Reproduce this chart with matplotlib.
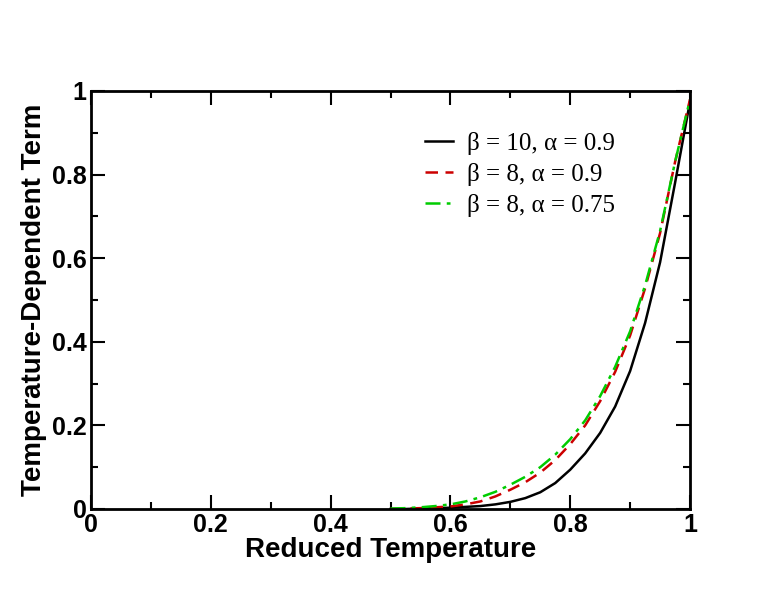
import matplotlib
matplotlib.use("Agg")
import matplotlib.pyplot as plt
from matplotlib.ticker import MultipleLocator

# values
reduced_t = [0.500, 0.525, 0.550, 0.575, 0.600, 0.625, 0.650, 0.675, 0.700,
             0.725, 0.750, 0.775, 0.800, 0.825, 0.850, 0.875, 0.900, 0.925,
             0.950, 0.975, 1.000]
beta10_a09 = [0.000, 0.000, 0.001, 0.002, 0.003, 0.005, 0.007, 0.011, 0.017,
              0.026, 0.040, 0.062, 0.094, 0.133, 0.182, 0.245, 0.330, 0.445,
              0.590, 0.780, 0.975]
beta8_a09 = [0.000, 0.001, 0.002, 0.004, 0.006, 0.011, 0.018, 0.030, 0.046,
             0.064, 0.087, 0.117, 0.155, 0.200, 0.258, 0.328, 0.415, 0.528,
             0.660, 0.830, 0.980]
beta8_a075 = [0.001, 0.002, 0.004, 0.007, 0.011, 0.018, 0.028, 0.041, 0.058,
              0.077, 0.100, 0.130, 0.167, 0.212, 0.270, 0.340, 0.425, 0.535,
              0.665, 0.830, 0.980]
series_labels = ["\u03b2 = 10, \u03b1 = 0.9", "\u03b2 = 8, \u03b1 = 0.9",
                 "\u03b2 = 8, \u03b1 = 0.75"]

fig = plt.figure(figsize=(7.76, 6.0), dpi=100)
ax = fig.add_axes([0.1173, 0.1517, 0.7719, 0.6967])

ax.plot(reduced_t, beta10_a09, color="black", lw=1.8, ls="-", label=series_labels[0])
ax.plot(reduced_t, beta8_a09, color="#cc0000", lw=1.8, ls=(0, (5, 3)), label=series_labels[1])
ax.plot(reduced_t, beta8_a075, color="#00cc00", lw=1.8, ls=(0, (6, 2.5, 1.5, 2.5)),
        label=series_labels[2])

ax.set_xlim(0, 1)
ax.set_ylim(0, 1)
ax.xaxis.set_major_locator(MultipleLocator(0.2))
ax.xaxis.set_minor_locator(MultipleLocator(0.1))
ax.yaxis.set_major_locator(MultipleLocator(0.2))
ax.yaxis.set_minor_locator(MultipleLocator(0.1))


def fmt(v, pos):
    if abs(v) < 1e-9:
        return "0"
    if abs(v - 1) < 1e-9:
        return "1"
    return f"{v:.1f}"


ax.xaxis.set_major_formatter(fmt)
ax.yaxis.set_major_formatter(fmt)

ax.tick_params(which="both", direction="in", top=True, right=True, width=1.5)
ax.tick_params(which="major", length=10, labelsize=18, pad=3)
ax.tick_params(which="minor", length=5)
for lbl in ax.get_xticklabels() + ax.get_yticklabels():
    lbl.set_fontweight("bold")
    lbl.set_family("Liberation Sans")
for sp in ax.spines.values():
    sp.set_linewidth(2)

ax.set_xlabel("Reduced Temperature", fontsize=20, fontweight="bold",
              family="Liberation Sans", labelpad=0)
ax.set_ylabel("Temperature-Dependent Term", fontsize=20, fontweight="bold",
              family="Liberation Sans", labelpad=4)

ax.legend(loc="upper left", bbox_to_anchor=(0.558, 0.903), frameon=False,
          prop={"family": "Liberation Serif", "size": 18},
          borderpad=0, borderaxespad=0,
          handlelength=1.1, handletextpad=0.55, labelspacing=0.32)

fig.savefig("out.png", dpi=100)
